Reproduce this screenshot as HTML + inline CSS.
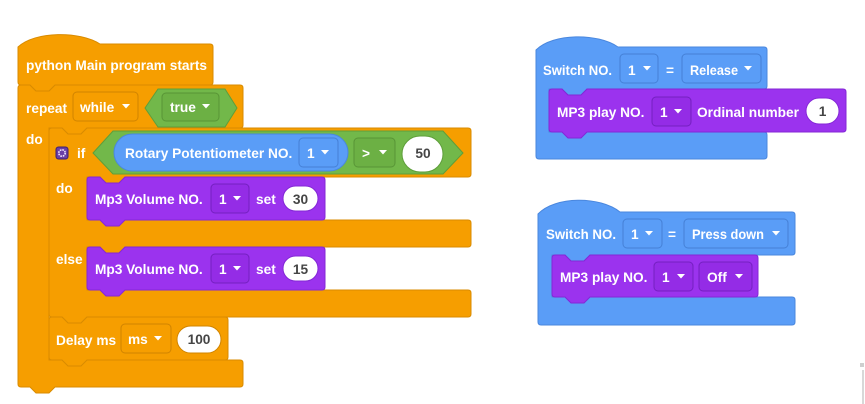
<!DOCTYPE html>
<html><head><meta charset="utf-8"><style>
html,body{margin:0;padding:0;background:#fff;}
svg{display:block;}
text{font-family:"Liberation Sans",Arial,sans-serif;font-weight:bold;font-size:13.7px;fill:#fff;}
.n{fill:#454545;text-anchor:middle;}
</style></head><body>
<svg width="865" height="404" viewBox="0 0 865 404" xmlns="http://www.w3.org/2000/svg">
<!-- ORANGE main program -->
<g fill="#F69E00" stroke="#D98B00" stroke-width="1">
<path d="M18,88 Q18,85 21,85 L30,85 L36,91 L49,91 L55,85 L240,85 Q243,85 243,88 L243,125 Q243,128 240,128 L87,128 L81,134 L68,134 L62,128 L49,128 L49,360 L240,360 Q243,360 243,363 L243,384 Q243,387 240,387 L55,387 L49,393 L36,393 L30,387 L21,387 Q18,387 18,384 Z"/>
<path d="M18,47 C35,31 80,31 100,44 L210,44 Q213,44 213,47 L213,82 Q213,85 210,85 L55,85 L49,91 L36,91 L30,85 L21,85 Q18,85 18,82 Z"/>
<path d="M49,131 Q49,128 52,128 L62,128 L68,134 L81,134 L87,128 L468,128 Q471,128 471,131 L471,174 Q471,177 468,177 L125,177 L119,183 L106,183 L100,177 L87,177 L87,220 L468,220 Q471,220 471,223 L471,244 Q471,247 468,247 L125,247 L119,253 L106,253 L100,247 L87,247 L87,290 L468,290 Q471,290 471,293 L471,314 Q471,317 468,317 L87,317 L81,323 L68,323 L62,317 L52,317 Q49,317 49,314 Z"/>
<path d="M49,320 Q49,317 52,317 L62,317 L68,323 L81,323 L87,317 L225,317 Q228,317 228,320 L228,357 Q228,360 225,360 L87,360 L81,366 L68,366 L62,360 L52,360 Q49,360 49,357 Z"/>
</g>
<!-- orange dropdowns -->
<rect x="73" y="92" width="65" height="29" rx="4" fill="#F69E00" stroke="#D08400"/>
<rect x="121" y="324" width="50" height="29" rx="4" fill="#F69E00" stroke="#D08400"/>
<!-- green while hex -->
<path d="M145,108 L158,89 L225,89 L237,108 L225,127 L158,127 Z" fill="#72B84A" stroke="#5E9E3A"/>
<rect x="162" y="93" width="57" height="28" rx="4" fill="#6CB044" stroke="#589536"/>
<!-- green if hex -->
<path d="M93,153 L113,131 L443,131 L463,153 L443,174 L113,174 Z" fill="#72B84A" stroke="#5E9E3A"/>
<rect x="114" y="134" width="234" height="37" rx="18.5" fill="#5A9DF7" stroke="#4A87DE"/>
<rect x="299" y="138" width="39" height="29" rx="4" fill="#5A9DF7" stroke="#4580D6"/>
<rect x="354" y="138" width="41" height="29" rx="4" fill="#6CB044" stroke="#589536"/>
<rect x="402" y="136" width="41" height="36" rx="18" fill="#fff" stroke="#5E9E3A"/>
<!-- gear icon -->
<rect x="56" y="147" width="12" height="12" rx="2.5" fill="#6A3FA6" stroke="#3D1F6E"/>
<circle cx="62" cy="153" r="3.2" fill="none" stroke="#F0E6FF" stroke-width="1.6" stroke-dasharray="1.6 0.9"/>
<circle cx="62" cy="153" r="1.2" fill="#6A3FA6"/>
<!-- purple blocks left -->
<g fill="#9B33EE" stroke="#8427D6">
<path d="M87,180 Q87,177 90,177 L100,177 L106,183 L119,183 L125,177 L322,177 Q325,177 325,180 L325,217 Q325,220 322,220 L125,220 L119,226 L106,226 L100,220 L90,220 Q87,220 87,217 Z"/>
<path d="M87,250 Q87,247 90,247 L100,247 L106,253 L119,253 L125,247 L322,247 Q325,247 325,250 L325,287 Q325,290 322,290 L125,290 L119,296 L106,296 L100,290 L90,290 Q87,290 87,287 Z"/>
</g>
<rect x="211" y="184" width="38" height="29" rx="4" fill="#942CE6" stroke="#7420C0"/>
<rect x="211" y="254" width="38" height="29" rx="4" fill="#942CE6" stroke="#7420C0"/>
<rect x="283" y="186" width="35" height="25" rx="12.5" fill="#fff" stroke="#8427D6"/>
<rect x="283" y="256" width="35" height="25" rx="12.5" fill="#fff" stroke="#8427D6"/>
<rect x="177" y="326" width="44" height="27" rx="13.5" fill="#fff" stroke="#D08400"/>

<!-- BLUE block 1 -->
<path d="M536,50 C553,33 598,33 618,47 L764,47 Q767,47 767,50 L767,86 Q767,89 764,89 L587,89 L581,95 L568,95 L562,89 L549,89 L549,132 L764,132 Q767,132 767,135 L767,156 Q767,159 764,159 L539,159 Q536,159 536,156 Z" fill="#5A9DF7" stroke="#4A87DE"/>
<rect x="620" y="54" width="38" height="29" rx="4" fill="#5A9DF7" stroke="#4580D6"/>
<rect x="682" y="54" width="79" height="29" rx="4" fill="#5A9DF7" stroke="#4580D6"/>
<path d="M549,92 Q549,89 552,89 L562,89 L568,95 L581,95 L587,89 L843,89 Q846,89 846,92 L846,129 Q846,132 843,132 L587,132 L581,138 L568,138 L562,132 L552,132 Q549,132 549,129 Z" fill="#9B33EE" stroke="#8427D6"/>
<rect x="652" y="97" width="39" height="29" rx="4" fill="#942CE6" stroke="#7420C0"/>
<rect x="806" y="98" width="33" height="26" rx="13" fill="#fff" stroke="#8427D6"/>

<!-- BLUE block 2 -->
<path d="M538,214 C555,196 600,196 620,212 L792,212 Q795,212 795,215 L795,252 Q795,255 792,255 L590,255 L584,261 L571,261 L565,255 L552,255 L552,297 L792,297 Q795,297 795,300 L795,322 Q795,325 792,325 L541,325 Q538,325 538,322 Z" fill="#5A9DF7" stroke="#4A87DE"/>
<rect x="623" y="219" width="39" height="29" rx="4" fill="#5A9DF7" stroke="#4580D6"/>
<rect x="684" y="219" width="104" height="29" rx="4" fill="#5A9DF7" stroke="#4580D6"/>
<path d="M552,258 Q552,255 555,255 L565,255 L571,261 L584,261 L590,255 L755,255 Q758,255 758,258 L758,294 Q758,297 755,297 L590,297 L584,303 L571,303 L565,297 L555,297 Q552,297 552,294 Z" fill="#9B33EE" stroke="#8427D6"/>
<rect x="654" y="262" width="39" height="29" rx="4" fill="#942CE6" stroke="#7420C0"/>
<rect x="699" y="262" width="53" height="29" rx="4" fill="#942CE6" stroke="#7420C0"/>

<!-- dropdown arrows -->
<g fill="#fff">
<path d="M122,104 L130,104 L126,108.5 Z"/>
<path d="M202,104 L210,104 L206,108.5 Z"/>
<path d="M321,150 L329,150 L325,154.5 Z"/>
<path d="M379,150 L387,150 L383,154.5 Z"/>
<path d="M233,196 L241,196 L237,200.5 Z"/>
<path d="M233,266 L241,266 L237,270.5 Z"/>
<path d="M154,336 L162,336 L158,340.5 Z"/>
<path d="M643,66 L651,66 L647,70.5 Z"/>
<path d="M744,66 L752,66 L748,70.5 Z"/>
<path d="M674,109 L682,109 L678,113.5 Z"/>
<path d="M645,231 L653,231 L649,235.5 Z"/>
<path d="M772,231 L780,231 L776,235.5 Z"/>
<path d="M677,274 L685,274 L681,278.5 Z"/>
<path d="M735,274 L743,274 L739,278.5 Z"/>
</g>

<!-- texts -->
<text x="26" y="70">python Main program starts</text>
<text x="26" y="113">repeat</text>
<text x="80" y="112">while</text>
<text x="170" y="112">true</text>
<text x="26" y="144">do</text>
<text x="77" y="158">if</text>
<text x="125" y="158">Rotary Potentiometer NO.</text>
<text x="307" y="158">1</text>
<text x="362" y="158">&gt;</text>
<text class="n" x="423" y="158">50</text>
<text x="56" y="193">do</text>
<text x="95" y="204">Mp3 Volume NO.</text>
<text x="219" y="204">1</text>
<text x="256" y="204">set</text>
<text class="n" x="300.5" y="204">30</text>
<text x="56" y="264">else</text>
<text x="95" y="274">Mp3 Volume NO.</text>
<text x="219" y="274">1</text>
<text x="256" y="274">set</text>
<text class="n" x="300.5" y="274">15</text>
<text x="56" y="345">Delay ms</text>
<text x="128" y="344">ms</text>
<text class="n" x="199" y="344">100</text>

<text x="543" y="75" textLength="69" lengthAdjust="spacingAndGlyphs">Switch NO.</text>
<text x="628" y="75">1</text>
<text x="666" y="75">=</text>
<text x="690" y="75" textLength="48" lengthAdjust="spacingAndGlyphs">Release</text>
<text x="557" y="117">MP3 play NO.</text>
<text x="660" y="117">1</text>
<text x="697" y="117">Ordinal number</text>
<text class="n" x="822.5" y="116">1</text>

<text x="546" y="239" textLength="70" lengthAdjust="spacingAndGlyphs">Switch NO.</text>
<text x="631" y="239">1</text>
<text x="668" y="239">=</text>
<text x="692" y="239" textLength="72" lengthAdjust="spacingAndGlyphs">Press down</text>
<text x="560" y="282">MP3 play NO.</text>
<text x="662" y="282">1</text>
<text x="707" y="282">Off</text>

<!-- scrollbar remnants -->
<rect x="860" y="363" width="4" height="4" fill="#cfcfcf"/>
<rect x="862" y="370" width="2" height="34" fill="#d8d8d8"/>
</svg>
</body></html>
